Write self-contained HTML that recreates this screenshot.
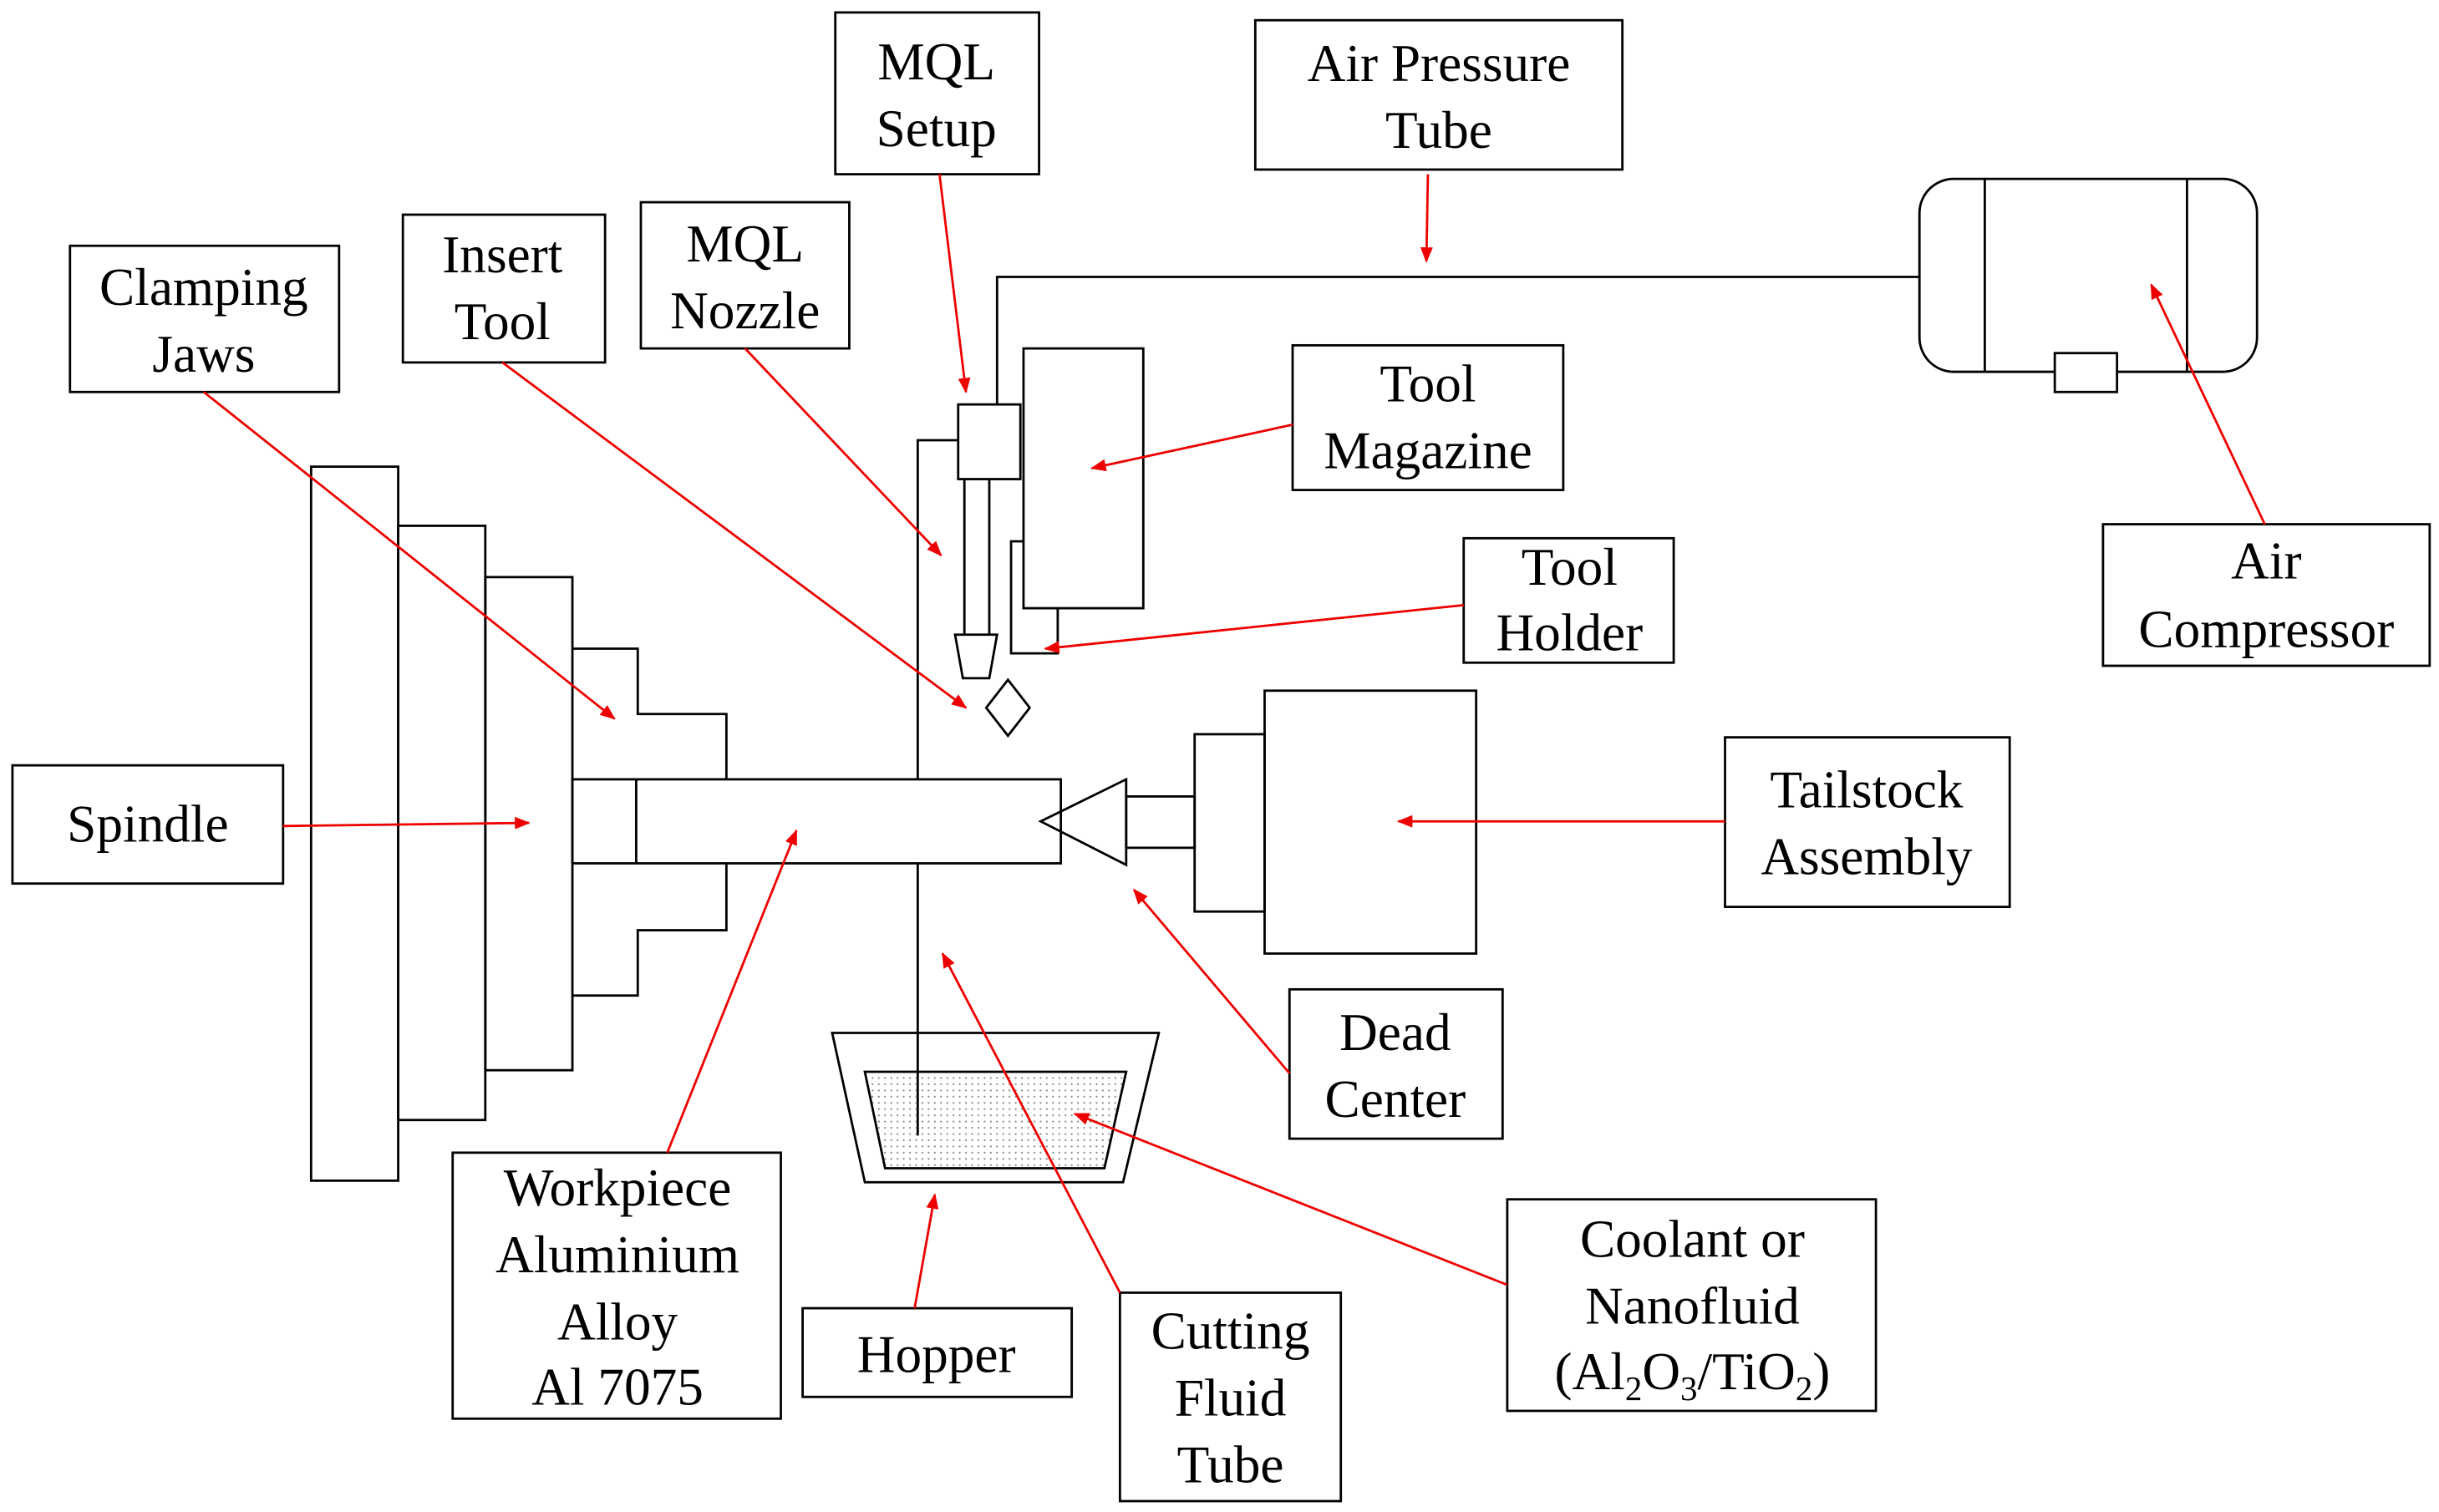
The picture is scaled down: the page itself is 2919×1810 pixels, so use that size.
<!DOCTYPE html>
<html><head><meta charset="utf-8"><style>
html,body{margin:0;padding:0;background:#fff;}
svg{display:block;}
text{font-family:"Liberation Serif",serif;font-size:34px;fill:#000;text-anchor:middle;}
</style></head><body>
<svg width="2919" height="1810" viewBox="0 0 1568 972" preserveAspectRatio="none" xmlns="http://www.w3.org/2000/svg">
<defs>
<marker id="a" markerWidth="10" markerHeight="8" refX="9" refY="4" orient="auto" markerUnits="userSpaceOnUse">
<path d="M0,0 L10,4 L0,8 Z" fill="#e00"/></marker>
<pattern id="dots" width="4" height="4" patternUnits="userSpaceOnUse"><circle cx="1" cy="1" r="0.6" fill="#888"/></pattern>
</defs>
<g fill="none" stroke="#000" stroke-width="1.5">
<rect x="537" y="8" width="131" height="104"/>
<rect x="807" y="13" width="236" height="96"/>
<rect x="45" y="158" width="173" height="94"/>
<rect x="259" y="138" width="130" height="95"/>
<rect x="412" y="130" width="134" height="94"/>
<rect x="831" y="222" width="174" height="93"/>
<rect x="941" y="346" width="135" height="80"/>
<rect x="1352" y="337" width="210" height="91"/>
<rect x="8" y="492" width="174" height="76"/>
<rect x="1109" y="474" width="183" height="109"/>
<rect x="829" y="636" width="137" height="96"/>
<rect x="291" y="741" width="211" height="171"/>
<rect x="516" y="841" width="173" height="57"/>
<rect x="720" y="831" width="142" height="134"/>
<rect x="969" y="771" width="237" height="136"/>
<rect x="200" y="300" width="56" height="459"/>
<rect x="256" y="338" width="56" height="382"/>
<rect x="312" y="371" width="56" height="317"/>
<polyline points="368,417 410,417 410,459 467,459 467,501"/>
<polyline points="368,640 410,640 410,598 467,598 467,555"/>
<rect x="368" y="501" width="314" height="54"/>
<line x1="409" y1="501" x2="409" y2="555"/>
<polygon points="669,528 724,501 724,556"/>
<rect x="724" y="512" width="44" height="33"/>
<rect x="768" y="472" width="45" height="114"/>
<rect x="813" y="444" width="136" height="169"/>
<polyline points="616,283 590,283 590,501"/>
<line x1="590" y1="555" x2="590" y2="730"/>
<rect x="616" y="260" width="40" height="48"/>
<line x1="620" y1="308" x2="620" y2="408"/>
<line x1="636" y1="308" x2="636" y2="408"/>
<polygon points="614,408 641,408 636,436 619,436"/>
<rect x="658" y="224" width="77" height="167"/>
<polyline points="658,348 650,348 650,420 680,420 680,391"/>
<polygon points="648,437 662,455 648,473 634,455"/>
<polyline points="641,260 641,178 1234,178"/>
<rect x="1234" y="115" width="217" height="124" rx="22"/>
<line x1="1276" y1="115" x2="1276" y2="239"/>
<line x1="1406" y1="115" x2="1406" y2="239"/>
<rect x="1321" y="227" width="40" height="25" fill="#fff"/>
<polygon points="535,664 745,664 722,760 556,760"/>
<polygon points="556,689 724,689 710,751 569,751" fill="url(#dots)"/>
</g>
<g stroke="#e00" stroke-width="1.5" marker-end="url(#a)">
<line x1="131" y1="252" x2="395" y2="462"/>
<line x1="323" y1="233" x2="621" y2="455"/>
<line x1="479" y1="224" x2="605" y2="357"/>
<line x1="604" y1="112" x2="621" y2="252"/>
<line x1="918" y1="112" x2="917" y2="168"/>
<line x1="831" y1="273" x2="702" y2="301"/>
<line x1="941" y1="389" x2="672" y2="417"/>
<line x1="1456" y1="337" x2="1383" y2="183"/>
<line x1="182" y1="531" x2="340" y2="529"/>
<line x1="1109" y1="528" x2="899" y2="528"/>
<line x1="829" y1="690" x2="729" y2="572"/>
<line x1="429" y1="741" x2="512" y2="534"/>
<line x1="588" y1="841" x2="601" y2="768"/>
<line x1="720" y1="831" x2="606" y2="613"/>
<line x1="969" y1="826" x2="691" y2="716"/>
</g>
<text x="602" y="51">MQL</text><text x="602" y="94">Setup</text>
<text x="925" y="52">Air Pressure</text><text x="925" y="95">Tube</text>
<text x="131" y="196">Clamping</text><text x="131" y="239">Jaws</text>
<text x="323" y="175">Insert</text><text x="323" y="218">Tool</text>
<text x="479" y="168">MQL</text><text x="479" y="211">Nozzle</text>
<text x="918" y="258">Tool</text><text x="918" y="301">Magazine</text>
<text x="1009" y="376">Tool</text><text x="1009" y="418">Holder</text>
<text x="1457" y="372">Air</text><text x="1457" y="416">Compressor</text>
<text x="95" y="541">Spindle</text>
<text x="1200" y="519">Tailstock</text><text x="1200" y="562">Assembly</text>
<text x="897" y="675">Dead</text><text x="897" y="718">Center</text>
<text x="397" y="775">Workpiece</text><text x="397" y="818">Aluminium</text><text x="397" y="861">Alloy</text><text x="397" y="903">Al 7075</text>
<text x="602" y="882">Hopper</text>
<text x="791" y="867">Cutting</text><text x="791" y="910">Fluid</text><text x="791" y="953">Tube</text>
<text x="1088" y="808">Coolant or</text><text x="1088" y="851">Nanofluid</text>
<text x="1088" y="893">(Al<tspan font-size="22" dy="7">2</tspan><tspan dy="-7">O</tspan><tspan font-size="22" dy="7">3</tspan><tspan dy="-7">/TiO</tspan><tspan font-size="22" dy="7">2</tspan><tspan dy="-7">)</tspan></text>
</svg>
</body></html>
